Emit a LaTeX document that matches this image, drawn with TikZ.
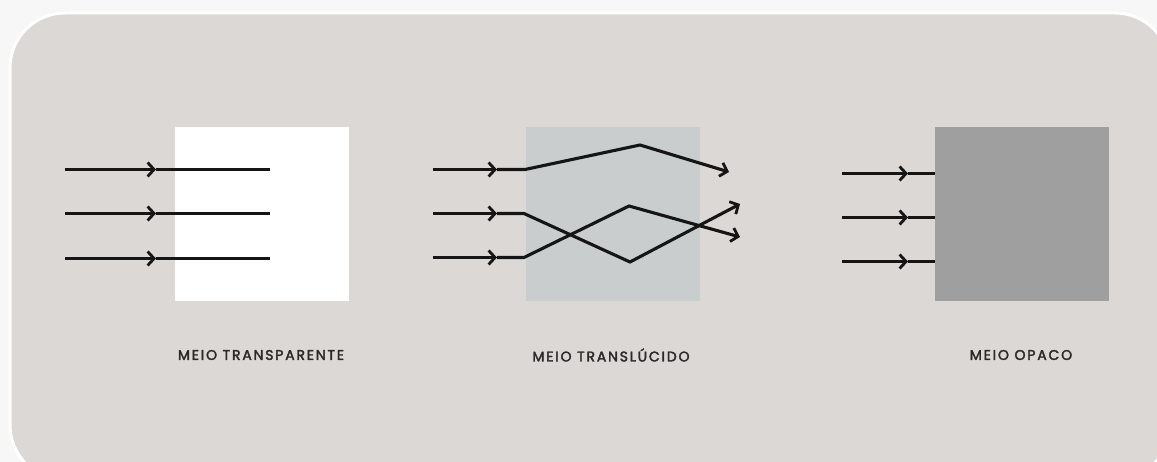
\documentclass[tikz,border=0pt]{standalone}
\usepackage{fontspec}
\setmainfont{Poppins}
\newfontfamily\lblfont{Poppins}[LetterSpace=13,BoldFont=Poppins,BoldFeatures={FakeBold=2.4}]
\usetikzlibrary{arrows.meta}
\definecolor{pagebg}{HTML}{F7F7F7}
\definecolor{cardbg}{HTML}{DCD8D6}
\definecolor{transl}{HTML}{C9CDCE}
\definecolor{opaq}{HTML}{9E9F9E}
\definecolor{ink}{HTML}{151515}
\definecolor{txt}{HTML}{2A2A2A}
\tikzset{
  medium/.style={draw=none,minimum width=174pt,minimum height=174pt,inner sep=0pt,anchor=north west},
  ray/.style={draw=ink,line width=3.1pt,line join=miter},
  tipped/.style={ray,-{Straight Barb[length=6.5pt,width=14pt,line width=2.8pt]}},
  lbl/.style={text=txt,font=\lblfont\bfseries\fontsize{14pt}{16pt}\selectfont,inner sep=0pt}
}
\begin{document}
\begin{tikzpicture}[x=1pt,y=-1pt]
\useasboundingbox (0,0) rectangle (1157,462);
\fill[pagebg] (0,0) rectangle (1157,462);
\begin{scope}
\clip (0,0) rectangle (1157,462);
\draw[fill=cardbg,draw=white,line width=3pt,rounded corners=55pt] (10,13) rectangle (1170,480);
\end{scope}
% boxes
\node[medium,fill=white] (b1) at (175,127) {};
\node[medium,fill=transl] (b2) at (526,127) {};
\node[medium,fill=opaq] (b3) at (935,127) {};
% panel 1
\foreach \i/\y in {1/169.5,2/213.5,3/258.5}{
  \coordinate (p1s\i) at (65,\y);
  \coordinate (p1m\i) at (156,\y);
  \coordinate (p1e\i) at (270,\y);
}
\draw[ray] (p1m1) -- (p1e1);
\draw[ray] (p1m2) -- (p1e2);
\draw[ray] (p1m3) -- (p1e3);
\draw[tipped] (p1s1) -- (p1m1);
\draw[tipped] (p1s2) -- (p1m2);
\draw[tipped] (p1s3) -- (p1m3);
% panel 2
\coordinate (t0) at (433,169.5); \coordinate (tm) at (497,169.5); \coordinate (t1) at (525,169.5); \coordinate (t2) at (640,145); \coordinate (t3) at (729,172);
\coordinate (m0) at (433,213.5); \coordinate (mm) at (497,213.5); \coordinate (m1) at (524,213.5); \coordinate (m2) at (630,262); \coordinate (m3) at (740,204);
\coordinate (l0) at (433,257.5); \coordinate (lm) at (497,257.5); \coordinate (l1) at (524,257.5); \coordinate (l2) at (629,206); \coordinate (l3) at (740,237);
\draw[tipped] (tm) -- (t1) -- (t2) -- (t3);
\draw[tipped] (mm) -- (m1) -- (m2) -- (m3);
\draw[tipped] (lm) -- (l1) -- (l2) -- (l3);
\draw[tipped] (t0) -- (tm);
\draw[tipped] (m0) -- (mm);
\draw[tipped] (l0) -- (lm);
% panel 3
\foreach \i/\y in {1/173.5,2/217.5,3/261.5}{
  \coordinate (p3s\i) at (842,\y);
  \coordinate (p3m\i) at (908,\y);
  \coordinate (p3e\i) at (935,\y);
}
\draw[ray] (p3m1) -- (p3e1);
\draw[ray] (p3m2) -- (p3e2);
\draw[ray] (p3m3) -- (p3e3);
\draw[tipped] (p3s1) -- (p3m1);
\draw[tipped] (p3s2) -- (p3m2);
\draw[tipped] (p3s3) -- (p3m3);
% labels
\node[lbl] (L1) at (261,355) {MEIO TRANSPARENTE};
\node[lbl] (L2) at (611,355) {MEIO TRANSLÚCIDO};
\node[lbl] (L3) at (1021,355) {MEIO OPACO};
\end{tikzpicture}
\end{document}
